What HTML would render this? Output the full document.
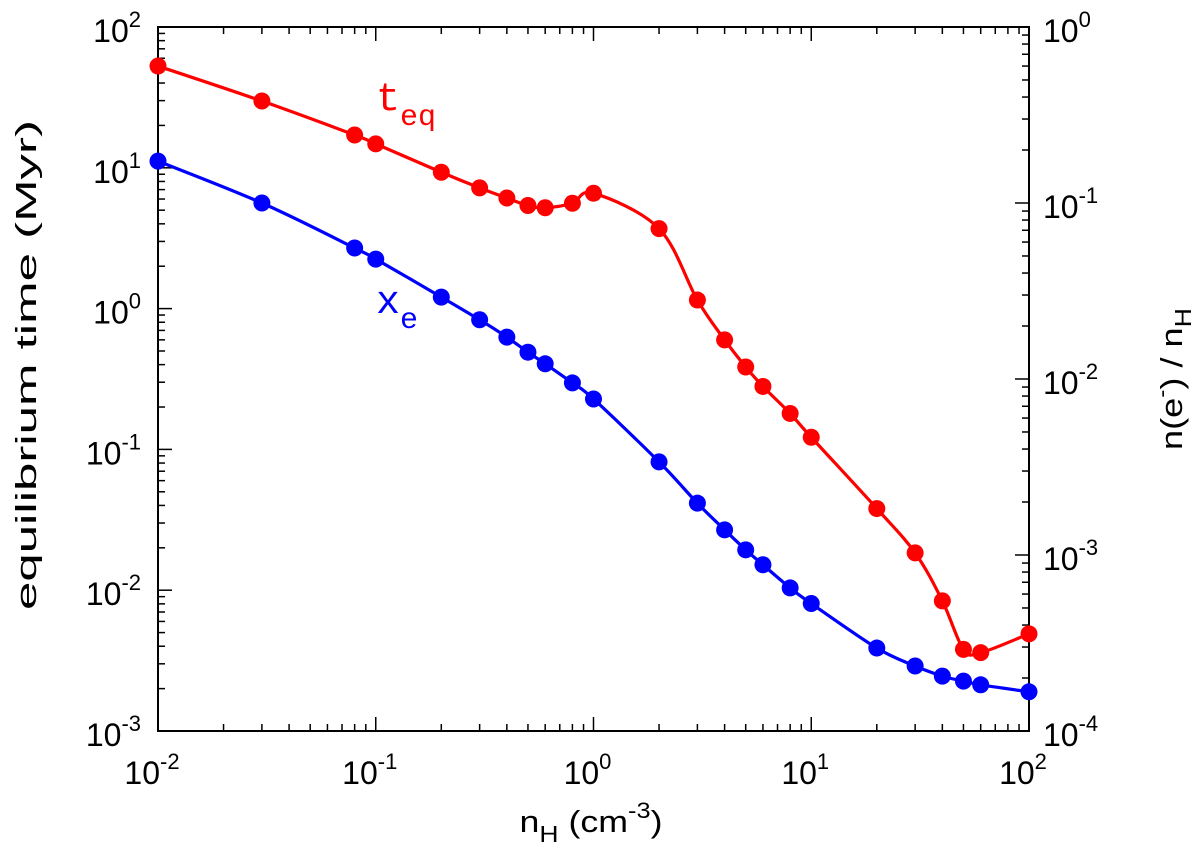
<!DOCTYPE html>
<html><head><meta charset="utf-8"><style>
html,body{margin:0;padding:0;background:#fff}
svg{display:block;font-family:"Liberation Sans",sans-serif}
</style></head><body>
<svg id="chart" width="1200" height="848" viewBox="0 0 1200 848">
<g id="axes"></g>
<g id="series"></g>
<text x="376" y="110" font-family="Liberation Mono, monospace" font-size="40" fill="#f00">t<tspan font-size="30" dy="15">eq</tspan></text>
<text x="376" y="313" font-family="Liberation Mono, monospace" font-size="40" fill="#00f">x<tspan font-size="30" dy="15">e</tspan></text>
<text transform="translate(36,365) rotate(-90)" text-anchor="middle" font-size="29" textLength="490" lengthAdjust="spacingAndGlyphs">equilibrium time (Myr)</text>
<text transform="translate(1182,379) rotate(-90)" text-anchor="middle" font-size="31" textLength="142" lengthAdjust="spacingAndGlyphs">n(e<tspan dy="-13" font-size="21">-</tspan><tspan dy="13">) / n</tspan><tspan dy="9" font-size="23">H</tspan></text>
<text x="591" y="832" text-anchor="middle" font-size="31" textLength="143" lengthAdjust="spacingAndGlyphs">n<tspan dy="10" font-size="23">H</tspan><tspan dy="-10"> (cm</tspan><tspan dy="-14" font-size="22">-3</tspan><tspan dy="14">)</tspan></text>
</svg>
<script>
const nH = [0.01,0.03,0.08,0.1,0.2,0.3,0.4,0.5,0.6,0.8,1,2,3,4,5,6,8,10,20,30,40,50,60,100];
const teq = [52.8,29.8,17.1,14.8,9.3,7.2,6.1,5.4,5.2,5.6,6.6,3.7,1.15,0.60,0.385,0.28,0.18,0.122,0.038,0.0184,0.0084,0.0038,0.0036,0.0049];
const xe = [0.173,0.1,0.0555,0.048,0.0292,0.0217,0.0173,0.0142,0.0122,0.0095,0.0077,0.00338,0.00197,0.00139,0.00107,0.00088,0.00065,0.00053,0.000296,0.000234,0.000205,0.000192,0.000183,0.000167];
const xTickExp = [-2,-1,0,1,2];
const yLeftExp = [-3,-2,-1,0,1,2];
const yRightExp = [-4,-3,-2,-1,0];

const L=158,R=1029,T=27,B=731;
const NS='http://www.w3.org/2000/svg';
const xs=v=>L+(Math.log10(v)+2)/4*(R-L);
const yl=v=>B-(Math.log10(v)+3)/5*(B-T);
const yr=v=>B-(Math.log10(v)+4)/4*(B-T);
function mk(tag,attrs,parent){const e=document.createElementNS(NS,tag);for(const k in attrs)e.setAttribute(k,attrs[k]);parent.appendChild(e);return e;}
const ax=document.getElementById('axes');
const frame=mk('rect',{x:L,y:T,width:R-L,height:B-T,fill:'none',stroke:'#000','stroke-width':2},ax);


function sup(t,x,y,exp,anchor){
  const e=mk('text',{x:x,y:y,'font-size':32,'text-anchor':anchor},ax);
  e.innerHTML='10<tspan dy="-15" font-size="22">'+exp+'</tspan>';
  
  
}
for(let d=-2;d<2;d++)for(let m=2;m<10;m++){const x=xs(m*Math.pow(10,d));
  mk('line',{x1:x,x2:x,y1:B,y2:B-7,stroke:'#000','stroke-width':1.5},ax);mk('line',{x1:x,x2:x,y1:T,y2:T+7,stroke:'#000','stroke-width':1.5},ax);}
xTickExp.forEach(e=>{const x=xs(Math.pow(10,e));mk('line',{x1:x,x2:x,y1:B,y2:B-14,stroke:'#000','stroke-width':1.5},ax);mk('line',{x1:x,x2:x,y1:T,y2:T+14,stroke:'#000','stroke-width':1.5},ax);sup('x-tick-label',x-6,784,e,'middle');});
for(let d=-3;d<2;d++)for(let m=2;m<10;m++){const y=yl(m*Math.pow(10,d));mk('line',{x1:L,x2:L+7,y1:y,y2:y,stroke:'#000','stroke-width':1.5},ax);}
yLeftExp.forEach(e=>{const y=yl(Math.pow(10,e));mk('line',{x1:L,x2:L+14,y1:y,y2:y,stroke:'#000','stroke-width':1.5},ax);sup('y-left-tick-label',141,y+15,e,'end');});
for(let d=-4;d<0;d++)for(let m=2;m<10;m++){const y=yr(m*Math.pow(10,d));mk('line',{x1:R,x2:R-7,y1:y,y2:y,stroke:'#000','stroke-width':1.5},ax);}
yRightExp.forEach(e=>{const y=yr(Math.pow(10,e));mk('line',{x1:R,x2:R-14,y1:y,y2:y,stroke:'#000','stroke-width':1.5},ax);sup('y-right-tick-label',1043,y+15,e,'start');});
const sg=document.getElementById('series');
function curve(pts){let d='M'+pts[0][0]+','+pts[0][1];
  for(let i=0;i<pts.length-1;i++){const p0=pts[i-1]||pts[i],p1=pts[i],p2=pts[i+1],p3=pts[i+2]||p2;
    const c1=[p1[0]+(p2[0]-p0[0])/6,p1[1]+(p2[1]-p0[1])/6],c2=[p2[0]-(p3[0]-p1[0])/6,p2[1]-(p3[1]-p1[1])/6];
    d+=' C'+c1+' '+c2+' '+p2;}return d;}
function series(vals,yf,col,name){
  const pts=nH.map((x,i)=>[xs(x),yf(vals[i])]);
  const p=mk('path',{d:curve(pts),fill:'none',stroke:col,'stroke-width':3.2},sg);
  
  
  pts.forEach(q=>{const c=mk('circle',{cx:q[0],cy:q[1],r:8.5,fill:col},sg);
    
    });
}
series(teq,yl,'#f00','teq');
series(xe,yr,'#00f','xe');
</script>
</body></html>
